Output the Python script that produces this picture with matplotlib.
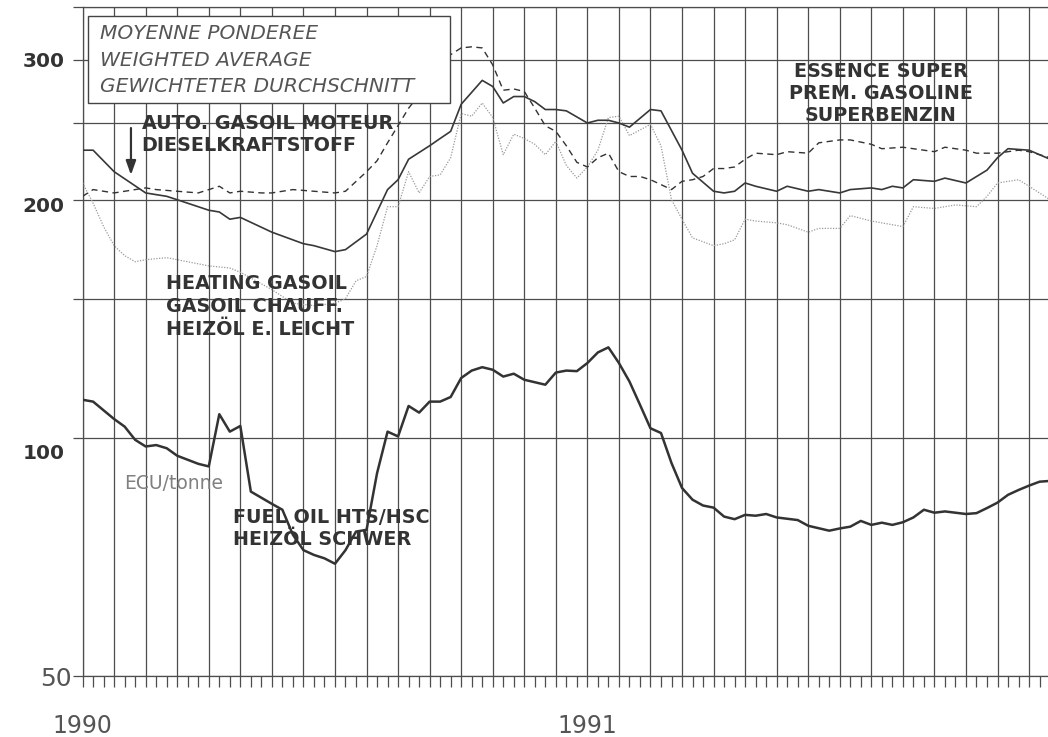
import matplotlib
matplotlib.use("Agg")
import matplotlib.pyplot as plt
from matplotlib.patches import Rectangle
from matplotlib.ticker import FixedLocator, MultipleLocator, NullLocator, NullFormatter

# x = weeks from the start of 1990 (the original axis has 48 ticks per year)
diesel_wk = [0, 1, 3, 6, 8, 9, 12, 13, 14, 15, 18, 21, 22, 24, 25, 27, 29, 30, 31, 33, 34, 35, 36,
             38, 39, 40, 41, 42, 43, 44, 45, 46, 48, 49, 50, 51, 52, 54, 55, 57, 58, 60, 61, 62, 63,
             64, 66, 67, 69, 70, 72, 73, 75, 76, 77, 78, 79, 81, 82, 84, 86, 87, 88, 90, 92]
diesel = [231, 231, 217, 204, 202, 200, 194, 193, 189, 190, 182, 176, 175, 172, 173, 181, 206, 212,
          225, 234, 239, 244, 264, 283, 278, 265, 270, 270, 266, 260, 260, 259, 250, 252, 252, 250,
          247, 260, 259, 231, 216, 205, 204, 205, 210, 208, 205, 208, 205, 206, 204, 206, 207, 206,
          208, 207, 212, 211, 213, 210, 218, 226, 232, 231, 225]

gas_wk = [0, 1, 3, 4, 6, 7, 9, 11, 13, 14, 15, 17, 18, 20, 22, 24, 25, 27, 28, 29, 31, 35, 36, 37,
          38, 39, 40, 41, 42, 43, 44, 45, 46, 47, 48, 49, 50, 51, 52, 53, 54, 55, 56, 57, 58, 59,
          60, 61, 62, 63, 64, 66, 67, 69, 70, 72, 73, 75, 76, 78, 81, 82, 84, 85, 87, 89, 90, 92]
gas = [202, 206, 204, 205, 207, 206, 205, 204, 208, 204, 205, 204, 204, 206, 205, 204, 205, 217,
       224, 236, 261, 305, 311, 312, 311, 296, 275, 276, 274, 261, 248, 244, 234, 223, 220, 226,
       229, 217, 214, 214, 212, 209, 206, 211, 212, 214, 219, 219, 220, 225, 229, 228, 230, 229,
       236, 238, 238, 235, 232, 233, 230, 233, 231, 229, 229, 231, 230, 226]

heat_wk = [0, 1, 2, 3, 4, 5, 6, 8, 9, 10, 12, 14, 15, 18, 20, 22, 24, 25, 26, 27, 28, 29, 30, 31,
           32, 33, 34, 35, 36, 37, 38, 39, 40, 41, 42, 43, 44, 45, 46, 47, 48, 49, 50, 51, 52, 53,
           54, 55, 56, 57, 58, 60, 61, 62, 63, 64, 66, 67, 69, 70, 72, 73, 75, 76, 78, 79, 81, 82,
           83, 85, 86, 87, 89, 90, 92]
heat = [210, 198, 185, 175, 170, 167, 168, 169, 168, 167, 165, 164, 162, 154, 148, 147, 148, 150,
        158, 160, 175, 196, 196, 217, 204, 214, 215, 226, 257, 255, 265, 254, 228, 242, 239, 235,
        228, 237, 221, 213, 220, 231, 254, 255, 241, 245, 249, 234, 200, 189, 179, 175, 176, 178,
        189, 188, 187, 186, 182, 184, 184, 191, 188, 187, 185, 196, 195, 196, 197, 196, 202, 210,
        212, 208, 200]

fuel_wk = [0, 1, 3, 4, 5, 6, 7, 8, 9, 11, 12, 13, 14, 15, 16, 18, 19, 20, 21, 22, 23, 24, 25, 26,
           27, 28, 29, 30, 31, 32, 33, 34, 35, 36, 37, 38, 39, 40, 41, 42, 44, 45, 46, 47, 48, 49,
           50, 51, 52, 53, 54, 55, 56, 57, 58, 59, 60, 61, 62, 63, 64, 65, 66, 68, 69, 71, 72, 73,
           74, 75, 76, 77, 78, 79, 80, 81, 82, 84, 85, 86, 87, 88, 89, 90, 91, 92]
fuel = [111.8, 111.2, 105.7, 103.4, 99.5, 97.6, 98.0, 97.1, 95.0, 92.8, 92.1, 107.2, 101.9, 103.6,
        85.6, 82.6, 81.2, 75.5, 72.2, 71.2, 70.5, 69.4, 72.2, 76.2, 76.6, 90.3, 101.9, 100.5, 109.8,
        107.7, 111.2, 111.2, 112.7, 119.1, 121.7, 122.9, 122.0, 119.6, 120.6, 118.5, 116.8, 121.0,
        121.7, 121.5, 124.4, 128.3, 130.2, 124.4, 117.9, 110.2, 102.9, 101.5, 93.0, 86.5, 83.6,
        82.2, 81.7, 79.6, 79.0, 80.0, 79.8, 80.2, 79.4, 78.8, 77.5, 76.4, 76.9, 77.3, 78.6, 77.7,
        78.2, 77.7, 78.3, 79.4, 81.2, 80.5, 80.8, 80.2, 80.4, 81.6, 82.9, 84.8, 86.0, 87.1, 88.1,
        88.3]

years = ["1990", "1991"]
year_wk = [0, 48]
y_grid = [50, 100, 150, 200, 250, 300, 350]
y_labels = [50, 100, 200, 300]

box_lines = ["MOYENNE PONDEREE", "WEIGHTED AVERAGE", "GEWICHTETER DURCHSCHNITT"]
diesel_lines = ["AUTO. GASOIL MOTEUR", "DIESELKRAFTSTOFF"]
heat_lines = ["HEATING GASOIL", "GASOIL CHAUFF.", "HEIZÖL E. LEICHT"]
gas_lines = ["ESSENCE SUPER", "PREM. GASOLINE", "SUPERBENZIN"]
fuel_lines = ["FUEL OIL HTS/HSC", "HEIZÖL SCHWER"]
unit = "ECU/tonne"

grid_c = "#4d4d4d"
ink = "#333333"

fig = plt.figure(figsize=(10.48, 7.37), dpi=100)
ax = fig.add_axes([0.0788, 0.0821, 0.9212, 0.908])
ax.set_yscale("log")
ax.set_xlim(0, 91.8)
ax.set_ylim(50, 350)

ax.xaxis.set_major_locator(MultipleLocator(3))
ax.xaxis.set_minor_locator(MultipleLocator(1))
ax.xaxis.set_major_formatter(NullFormatter())
ax.yaxis.set_major_locator(FixedLocator(y_grid))
ax.yaxis.set_minor_locator(NullLocator())
ax.yaxis.set_major_formatter(NullFormatter())
ax.tick_params(axis="x", which="both", direction="out", length=8, width=0.9, color=grid_c)
ax.tick_params(axis="y", which="major", direction="out", length=7, width=0.9, color=grid_c)
ax.grid(True, which="major", color=grid_c, lw=0.9)
ax.spines["right"].set_visible(False)
for s in ["top", "left", "bottom"]:
    ax.spines[s].set_color(grid_c)
    ax.spines[s].set_linewidth(0.9)

ax.plot(heat_wk, heat, color="#9a9a9a", lw=0.9, ls=(0, (1, 1.2)), zorder=3)
ax.plot(gas_wk, gas, color=ink, lw=1.0, dashes=(4.5, 3.2), zorder=3)
ax.plot(diesel_wk, diesel, color="#383838", lw=1.2, zorder=3)
ax.plot(fuel_wk, fuel, color=ink, lw=1.8, zorder=3)

# y labels, slightly offset like the printed original
label_style = {
    50: dict(size=18, weight="normal", color="#555555", dx=-11, dy=-3),
    100: dict(size=14.5, weight="bold", color=ink, dx=-18, dy=-15),
    200: dict(size=14.5, weight="bold", color=ink, dx=-18, dy=-7),
    300: dict(size=14.5, weight="bold", color=ink, dx=-18, dy=-1),
}
for v in y_labels:
    st = label_style[v]
    ax.annotate(str(v), xy=(0, v), xycoords=("axes fraction", "data"),
                xytext=(st["dx"], st["dy"]), textcoords="offset pixels",
                ha="right", va="center", fontsize=st["size"], fontweight=st["weight"],
                color=st["color"], annotation_clip=False)

for wk, yr in zip(year_wk, years):
    ax.text(wk, -0.074, yr, transform=ax.get_xaxis_transform(), ha="center", va="center",
            fontsize=17, color="#555555")

# legend box
ax.add_patch(Rectangle((0.0056, 0.857), 0.375, 0.130, transform=ax.transAxes,
                       facecolor="white", edgecolor="#444444", lw=1.0, zorder=5, clip_on=False))
for i, line in enumerate(box_lines):
    ax.text(0.0181, 0.961 - i * 0.0398, line, transform=ax.transAxes, ha="left", va="center",
            fontsize=14.5, style="italic", color="#555555", zorder=6)

bold = dict(fontsize=13.8, fontweight="bold", color=ink, zorder=6, transform=ax.transAxes)
for i, line in enumerate(diesel_lines):
    ax.text(0.0612, 0.8267 - i * 0.0325, line, ha="left", va="center", **bold)
for i, line in enumerate(heat_lines):
    ax.text(0.0861, 0.588 - i * 0.0351, line, ha="left", va="center", **bold)
for i, line in enumerate(gas_lines):
    ax.text(0.827, 0.9038 - i * 0.033, line, ha="center", va="center", **bold)
for i, line in enumerate(fuel_lines):
    ax.text(0.1556, 0.2373 - i * 0.0333, line, ha="left", va="center", **bold)
ax.text(0.0429, 0.2887, unit, transform=ax.transAxes, ha="left", va="center",
        fontsize=13.5, color="#808080", zorder=6)

ax.annotate("", xy=(0.0501, 0.7494), xytext=(0.0501, 0.8196), xycoords="axes fraction",
            arrowprops=dict(arrowstyle="-|>,head_length=0.7,head_width=0.25", color=ink,
                            lw=1.6, mutation_scale=12, shrinkA=0, shrinkB=0), zorder=6)

fig.savefig("out.png", dpi=100, facecolor="white")
